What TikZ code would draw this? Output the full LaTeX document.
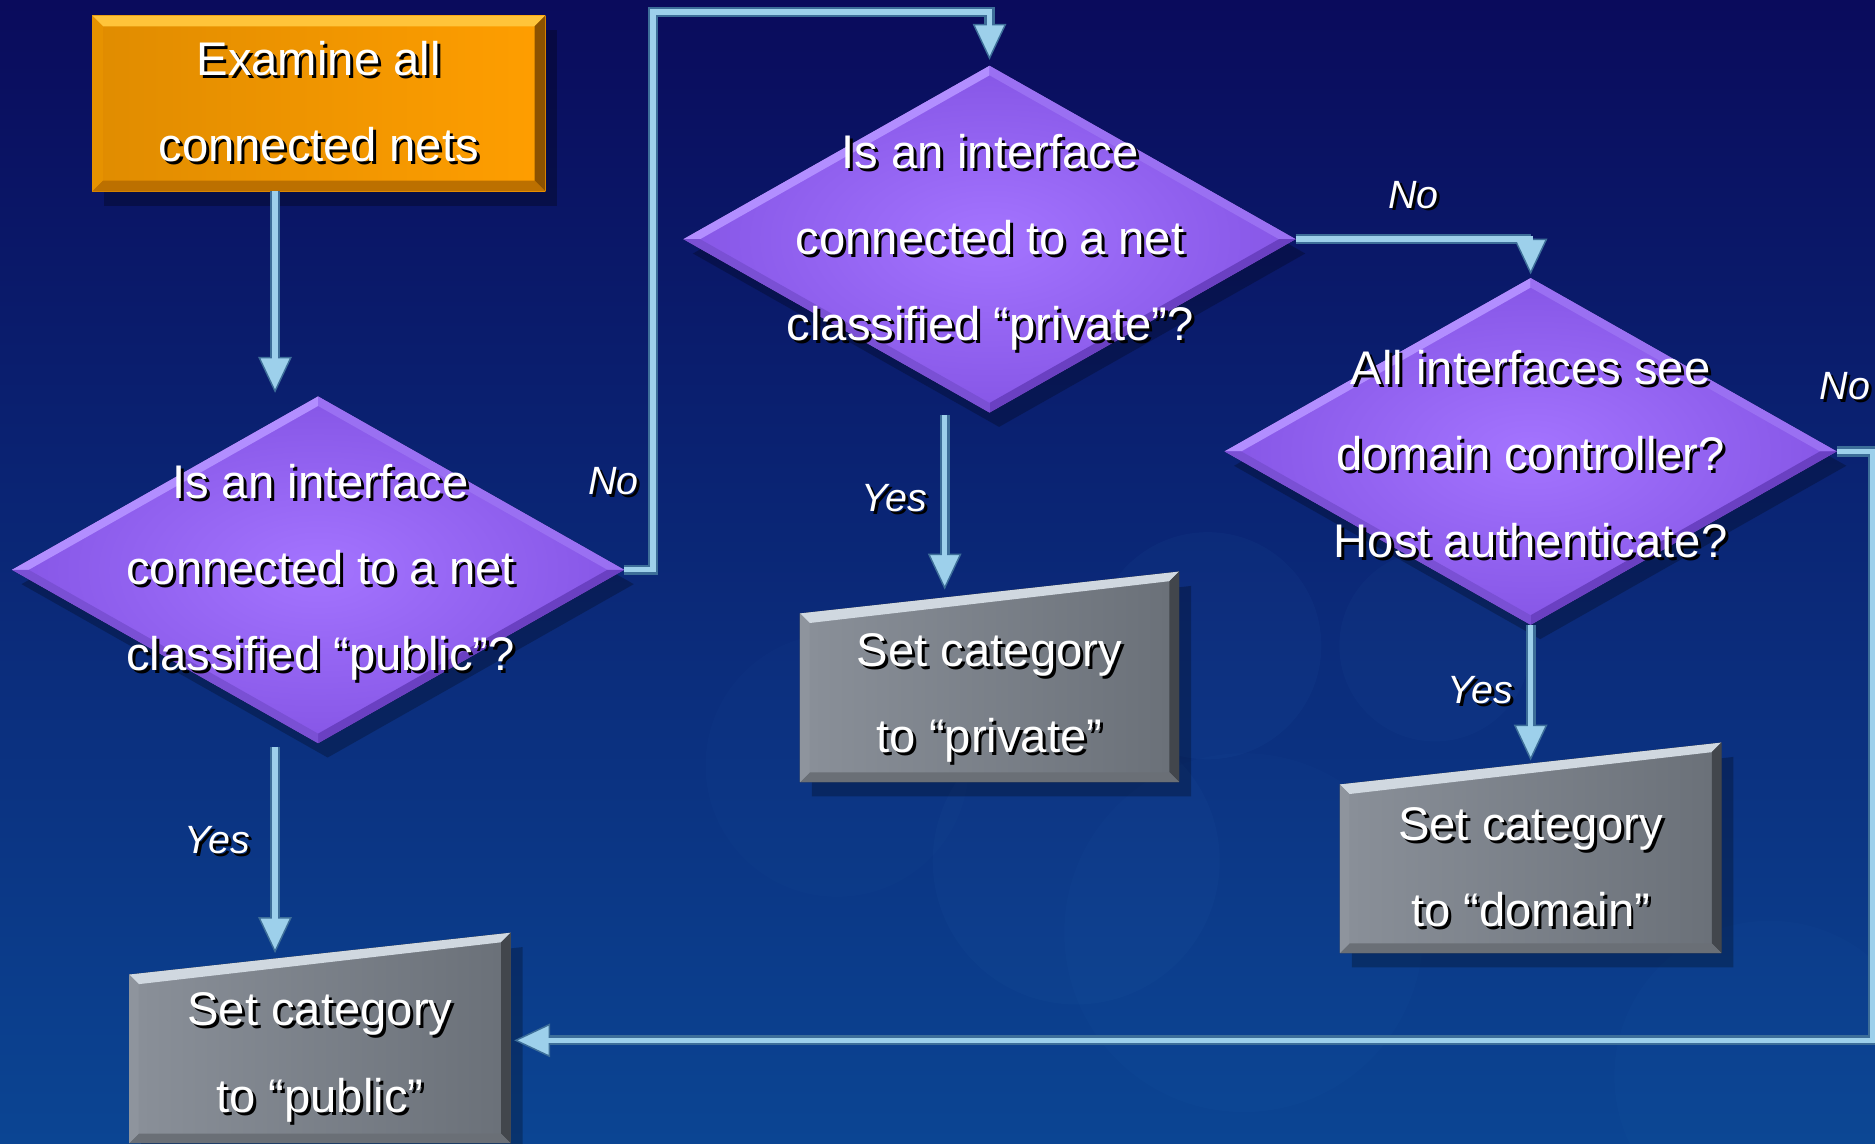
\documentclass[tikz,border=0pt]{standalone}
\usepackage{fontspec}
\setmainfont{Liberation Sans}
\usetikzlibrary{shapes.geometric,arrows.meta,calc}
\definecolor{bgtop}{HTML}{0A0B5C}
\definecolor{bgbot}{HTML}{0B4593}
\definecolor{orM}{HTML}{FFA600}
\definecolor{orL}{HTML}{E08C00}
\definecolor{orR}{HTML}{FF9E00}
\definecolor{orTop}{HTML}{FFC43A}
\definecolor{orLeft}{HTML}{E69200}
\definecolor{orBot}{HTML}{BC7000}
\definecolor{orRight}{HTML}{8C5200}
\definecolor{puIn}{HTML}{A474FF}
\definecolor{puOut}{HTML}{8656E6}
\definecolor{puNW}{HTML}{B28EFF}
\definecolor{puNE}{HTML}{9A70F2}
\definecolor{puSE}{HTML}{6A40C2}
\definecolor{puSW}{HTML}{7A50D4}
\definecolor{gyL}{HTML}{8A9099}
\definecolor{gyM}{HTML}{A9B0B9}
\definecolor{gyR}{HTML}{6A7078}
\definecolor{gyTop}{HTML}{D0D8E0}
\definecolor{gyLeft}{HTML}{8E949D}
\definecolor{gyBot}{HTML}{6A6F76}
\definecolor{gyRight}{HTML}{42464C}
\definecolor{arDark}{HTML}{3D6E99}
\definecolor{arLight}{HTML}{9DD0EB}
\definecolor{blob}{HTML}{3C7CC4}
\pgfdeclarelayer{bgl}
\pgfdeclarelayer{shp}
\pgfsetlayers{bgl,shp,main}
\newcommand\shd[1]{\leavevmode\rlap{\kern2.5pt\raisebox{-2.5pt}{\color{black}#1}}{\color{white}#1}}
\newcommand\rectbevel[6]{%
 \fill[#3] (#1.north west) -- (#1.north east) -- ($(#1.north east)+(-#2,#2)$) -- ($(#1.north west)+(#2,#2)$) -- cycle;
 \fill[#4] (#1.north east) -- (#1.south east) -- ($(#1.south east)+(-#2,-#2)$) -- ($(#1.north east)+(-#2,#2)$) -- cycle;
 \fill[#5] (#1.south east) -- (#1.south west) -- ($(#1.south west)+(#2,-#2)$) -- ($(#1.south east)+(-#2,-#2)$) -- cycle;
 \fill[#6] (#1.south west) -- (#1.north west) -- ($(#1.north west)+(#2,#2)$) -- ($(#1.south west)+(#2,-#2)$) -- cycle;
}
\newcommand\graybox[1]{%
 \coordinate (#1TL) at (#1.north west);
 \coordinate (#1TR) at ($(#1.north east)+(0,-35)$);
 \coordinate (#1BR) at (#1.south east);
 \coordinate (#1BL) at (#1.south west);
 \fill[black,opacity=.25] ($(#1TL)+(10,12)$) -- ($(#1TR)+(10,12)$) -- ($(#1BR)+(10,12)$) -- ($(#1BL)+(10,12)$) -- cycle;
 \fill[left color=gyL, middle color=gyM, right color=gyR] (#1TL) -- (#1TR) -- (#1BR) -- (#1BL) -- cycle;
 \fill[gyTop] (#1TL) -- (#1TR) -- ($(#1TR)+(-8,8)$) -- ($(#1TL)+(8,8)$) -- cycle;
 \fill[gyRight] (#1TR) -- (#1BR) -- ($(#1BR)+(-8,-8)$) -- ($(#1TR)+(-8,8)$) -- cycle;
 \fill[gyBot] (#1BR) -- (#1BL) -- ($(#1BL)+(8,-8)$) -- ($(#1BR)+(-8,-8)$) -- cycle;
 \fill[gyLeft] (#1BL) -- (#1TL) -- ($(#1TL)+(8,8)$) -- ($(#1BL)+(8,-8)$) -- cycle;
}
\newcommand\diam[1]{%
 \fill[black,opacity=.25] ($(#1.north)+(8,12)$) -- ($(#1.east)+(8,12)$) -- ($(#1.south)+(8,12)$) -- ($(#1.west)+(8,12)$) -- cycle;
 \fill[inner color=puIn, outer color=puOut] (#1.north) -- (#1.east) -- (#1.south) -- (#1.west) -- cycle;
 \fill[puNW] (#1.west) -- (#1.north) -- ($(#1.north)+(0,8)$) -- ($(#1.west)+(14,0)$) -- cycle;
 \fill[puNE] (#1.north) -- (#1.east) -- ($(#1.east)+(-14,0)$) -- ($(#1.north)+(0,8)$) -- cycle;
 \fill[puSE] (#1.east) -- (#1.south) -- ($(#1.south)+(0,-8)$) -- ($(#1.east)+(-14,0)$) -- cycle;
 \fill[puSW] (#1.south) -- (#1.west) -- ($(#1.west)+(14,0)$) -- ($(#1.south)+(0,-8)$) -- cycle;
}
\tikzset{
 boxtxt/.style={rectangle, inner sep=0pt, outer sep=0pt, align=center, font=\fontsize{39.5}{72}\selectfont},
 dia/.style={diamond, inner sep=0pt, outer sep=0pt, minimum width=512pt, minimum height=290pt},
 lbl/.style={inner sep=0pt, font=\fontsize{33}{40}\selectfont\itshape},
 conn/.style={draw=arDark, line width=8.5pt, line join=miter,
   -{Triangle[length=30pt,width=28pt,fill=arLight,line width=1.2pt]},
   postaction={draw=arLight, line width=4.5pt, -, shorten >=26pt}},
}
\begin{document}
\begin{tikzpicture}[x=1pt,y=-1pt]
\useasboundingbox (0,0) rectangle (1568,956);
\begin{pgfonlayer}{bgl}
\fill[top color=bgtop, bottom color=bgbot] (0,0) rectangle (1568,956);
\fill[blob, opacity=.06] (1010,540) circle [radius=95pt];
\fill[blob, opacity=.05] (1200,540) circle [radius=80pt];
\fill[blob, opacity=.05] (900,720) circle [radius=120pt];
\fill[blob, opacity=.04] (1040,780) circle [radius=150pt];
\fill[blob, opacity=.04] (1480,900) circle [radius=130pt];
\fill[blob, opacity=.03] (700,640) circle [radius=110pt];
\end{pgfonlayer}

% nodes
\node[boxtxt, minimum width=379pt, minimum height=147pt] (start) at (266.5,86.5) {\shd{Examine all}\\\shd{connected nets}};
\node[dia] (d1) at (266,476.5) {};
\node[boxtxt] (t1) at (268,480) {\shd{Is an interface}\\\shd{connected to a net}\\\shd{classified “public”?}};
\node[dia] (d2) at (827.5,200) {};
\node[boxtxt] (t2) at (828,204) {\shd{Is an interface}\\\shd{connected to a net}\\\shd{classified “private”?}};
\node[dia] (d3) at (1280,377.5) {};
\node[boxtxt] (t3) at (1280,381) {\shd{All interfaces see}\\\shd{domain controller?}\\\shd{Host authenticate?}};
\node[boxtxt, minimum width=317pt, minimum height=141pt, text depth=8pt] (g1) at (827.5,583.5) {\shd{Set category}\\\shd{to “private”}};
\node[boxtxt, minimum width=319pt, minimum height=141pt] (g2) at (1280,726.5) {\shd{Set category}\\\shd{to “domain”}};
\node[boxtxt, minimum width=319pt, minimum height=141pt] (g3) at (267.5,885.5) {\shd{Set category}\\\shd{to “public”}};

% labels
\node[lbl] (l1) at (182,704) {\shd{Yes}};
\node[lbl] (l2) at (513,404) {\shd{No}};
\node[lbl] (l3) at (748,418) {\shd{Yes}};
\node[lbl] (l4) at (1182,164) {\shd{No}};
\node[lbl] (l5) at (1238,578) {\shd{Yes}};
\node[lbl] (l6) at (1543,324) {\shd{No}};

% shapes
\begin{pgfonlayer}{shp}
\fill[black, opacity=.28] ($(start.north west)+(10,12)$) rectangle ($(start.south east)+(10,12)$);
\fill[left color=orL, middle color=orM, right color=orR] (start.north west) rectangle (start.south east);
\rectbevel{start}{9}{orTop}{orRight}{orBot}{orLeft}
\diam{d1}
\diam{d2}
\diam{d3}
\graybox{g1}
\graybox{g2}
\graybox{g3}
\end{pgfonlayer}

% connectors
\coordinate (a3) at (546,10);
\coordinate (a7) at (1566,870);
\draw[conn] ([xshift=-36.5pt]start.south) -- ([xshift=-36pt,yshift=3pt]d1.north);
\draw[conn] ([xshift=-36pt,yshift=-3pt]d1.south) -- ([xshift=-37.5pt,yshift=18pt]g3.north);
\draw[conn] (d1.east) -| (a3) -| ([yshift=5pt]d2.north);
\draw[conn] ([xshift=-37.5pt,yshift=-2pt]d2.south) -- ([xshift=-37.5pt,yshift=20pt]g1.north);
\draw[conn] (d2.east) -| ([yshift=3pt]d3.north);
\draw[conn] (d3.south) -- ([yshift=20pt]g2.north);
\draw[conn] (d3.east) -| (a7) -- ([xshift=3pt,yshift=15.5pt]g3.east);
\end{tikzpicture}
\end{document}
